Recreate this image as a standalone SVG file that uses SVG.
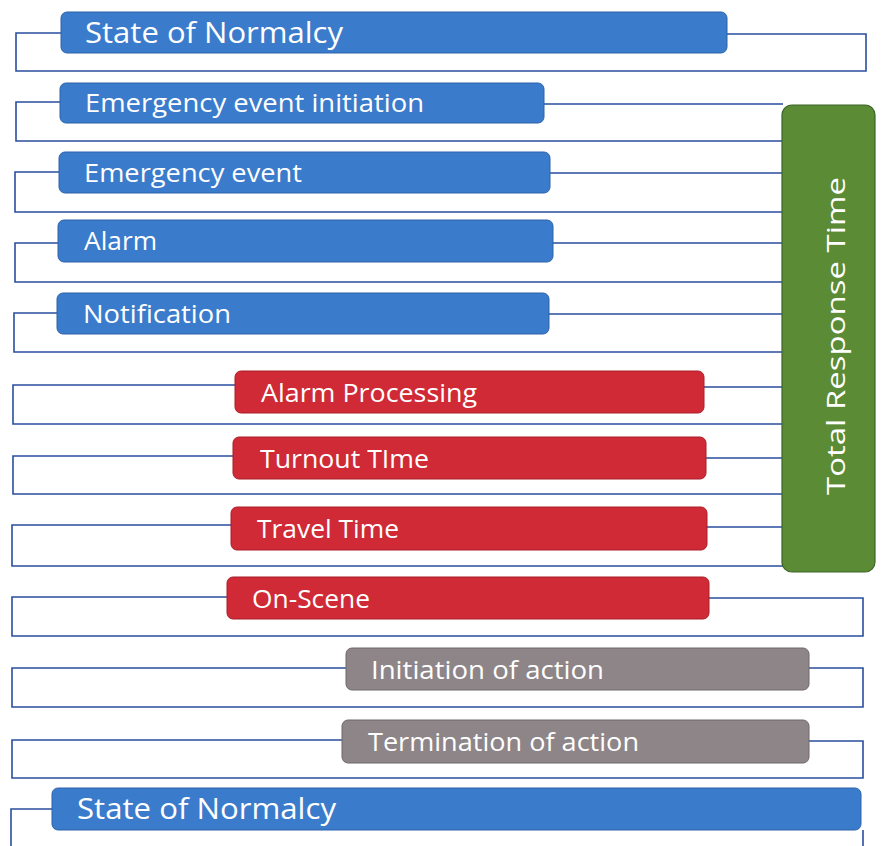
<svg xmlns="http://www.w3.org/2000/svg" width="882" height="846" viewBox="0 0 882 846">
<style>
.ln{fill:none;stroke:#2a4f9e;stroke-width:1.6}
.blue{fill:#3b7bcb;stroke:#2d63ab;stroke-width:1}
.red{fill:#cf2a36;stroke:#a81f29;stroke-width:1}
.gray{fill:#8d8587;stroke:#6f686a;stroke-width:1}
.green{fill:#5b8b34;stroke:#3d6429;stroke-width:1.2}
.t{font-family:"Open Sans","Liberation Sans",sans-serif;fill:#ffffff;font-size:26px}
.big{font-size:29px}
</style>
<rect x="0" y="0" width="882" height="846" fill="#ffffff"/>
<g id="connectors">
<path class="ln" d="M61,33 H16 V71 H866 V34 H727"/>
<path class="ln" d="M60,102 H16 V141 H783 M544,104 H783"/>
<path class="ln" d="M59,172 H15 V212 H783 M550,173 H783"/>
<path class="ln" d="M58,243 H15 V282 H783 M553,243 H783"/>
<path class="ln" d="M57,313 H14 V352 H783 M549,314 H783"/>
<path class="ln" d="M235,385 H13 V424 H783 M704,387 H783"/>
<path class="ln" d="M233,456 H13 V494 H783 M706,458 H783"/>
<path class="ln" d="M231,525 H12 V566 H783 M707,527 H783"/>
<path class="ln" d="M227,597 H12 V636 H863 V598 H709"/>
<path class="ln" d="M346,668 H12 V707 H863 V668 H809"/>
<path class="ln" d="M342,740 H12 V778 H863 V741 H809"/>
<path class="ln" d="M52,809 H11 V846 M863,830 V846"/>
</g>
<g id="state-normalcy-top">
<rect class="blue" x="61" y="12" width="666" height="41" rx="6"/>
<text class="t big" x="85" y="43" textLength="258" lengthAdjust="spacingAndGlyphs">State of Normalcy</text>
</g>
<g id="emergency-event-initiation">
<rect class="blue" x="60" y="83" width="484" height="40" rx="6"/>
<text class="t" x="85" y="112" textLength="339" lengthAdjust="spacingAndGlyphs">Emergency event initiation</text>
</g>
<g id="emergency-event">
<rect class="blue" x="59" y="152" width="491" height="41" rx="6"/>
<text class="t" x="84" y="182" textLength="218" lengthAdjust="spacingAndGlyphs">Emergency event</text>
</g>
<g id="alarm">
<rect class="blue" x="58" y="220" width="495" height="42" rx="6"/>
<text class="t" x="84" y="250" textLength="73" lengthAdjust="spacingAndGlyphs">Alarm</text>
</g>
<g id="notification">
<rect class="blue" x="57" y="293" width="492" height="41" rx="6"/>
<text class="t" x="83" y="323" textLength="148" lengthAdjust="spacingAndGlyphs">Notification</text>
</g>
<g id="alarm-processing">
<rect class="red" x="235" y="371" width="469" height="42" rx="6"/>
<text class="t" x="261" y="402" textLength="216" lengthAdjust="spacingAndGlyphs">Alarm Processing</text>
</g>
<g id="turnout-time">
<rect class="red" x="233" y="437" width="473" height="42" rx="6"/>
<text class="t" x="260" y="468" textLength="169" lengthAdjust="spacingAndGlyphs">Turnout TIme</text>
</g>
<g id="travel-time">
<rect class="red" x="231" y="507" width="476" height="43" rx="6"/>
<text class="t" x="257" y="538" textLength="142" lengthAdjust="spacingAndGlyphs">Travel Time</text>
</g>
<g id="on-scene">
<rect class="red" x="227" y="577" width="482" height="42" rx="6"/>
<text class="t" x="252" y="608" textLength="118" lengthAdjust="spacingAndGlyphs">On-Scene</text>
</g>
<g id="initiation-of-action">
<rect class="gray" x="346" y="648" width="463" height="42" rx="6"/>
<text class="t" x="371" y="679" textLength="233" lengthAdjust="spacingAndGlyphs">Initiation of action</text>
</g>
<g id="termination-of-action">
<rect class="gray" x="342" y="720" width="467" height="43" rx="6"/>
<text class="t" x="368" y="751" textLength="271" lengthAdjust="spacingAndGlyphs">Termination of action</text>
</g>
<g id="state-normalcy-bottom">
<rect class="blue" x="52" y="788" width="809" height="42" rx="6"/>
<text class="t big" x="77" y="819" textLength="259" lengthAdjust="spacingAndGlyphs">State of Normalcy</text>
</g>
<g id="total-response-time">
<rect class="green" x="782" y="105" width="93" height="467" rx="10"/>
<text class="t" x="0" y="0" font-size="35" text-anchor="middle" textLength="318" lengthAdjust="spacingAndGlyphs" transform="translate(845,336) rotate(-90)">Total Response Time</text>
</g>
</svg>
